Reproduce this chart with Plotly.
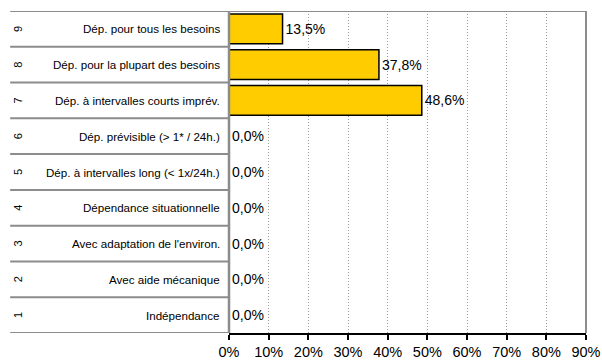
import plotly.graph_objects as go

levels = [1, 2, 3, 4, 5, 6, 7, 8, 9]
labels = [
    "Indépendance",
    "Avec aide mécanique",
    "Avec adaptation de l'environ.",
    "Dépendance situationnelle",
    "Dép. à intervalles long (< 1x/24h.)",
    "Dép. prévisible (> 1* / 24h.)",
    "Dép. à intervalles courts imprév.",
    "Dép. pour la plupart des besoins",
    "Dép. pour tous les besoins",
]
values = [0.0, 0.0, 0.0, 0.0, 0.0, 0.0, 48.6, 37.8, 13.5]
x_ticks = [0, 10, 20, 30, 40, 50, 60, 70, 80, 90]
x_tick_text = ["0%", "10%", "20%", "30%", "40%", "50%", "60%", "70%", "80%", "90%"]

FONT = "Arial, Liberation Sans, sans-serif"
GRAY = "#8c8c8c"

fig = go.Figure()
fig.add_trace(go.Bar(
    x=values, y=levels, orientation="h", width=0.83,
    marker=dict(color="#FFCC00", line=dict(color="black", width=1.5)),
    text=values, texttemplate="%{x:.1f}%", textposition="outside",
    textfont=dict(size=14, color="black", family=FONT),
    cliponaxis=False, hoverinfo="skip",
))

annotations = []
shapes = []
for lv, lab in zip(levels, labels):
    annotations.append(dict(x=0, y=lv, xref="paper", yref="y", text=lab,
                            xanchor="right", xshift=-7, showarrow=False,
                            font=dict(size=11.6, color="black", family=FONT)))
    annotations.append(dict(x=0, y=lv, xref="paper", yref="y", text=str(lv),
                            xanchor="center", xshift=-211, showarrow=False,
                            textangle=-90,
                            font=dict(size=11, color="black", family=FONT)))
for k in range(0, 9):
    shapes.append(dict(type="line", xref="paper", yref="y", x0=-0.613, x1=0,
                       y0=k + 0.5, y1=k + 0.5, line=dict(color=GRAY, width=2)))
# top border across whole chart
shapes.append(dict(type="line", xref="paper", yref="y", x0=-0.613, x1=1,
                   y0=9.5, y1=9.5, line=dict(color=GRAY, width=2)))
# right border
shapes.append(dict(type="line", xref="paper", yref="paper", x0=1, x1=1,
                   y0=0, y1=1, line=dict(color=GRAY, width=2)))
# left axis
shapes.append(dict(type="line", xref="paper", yref="paper", x0=0, x1=0,
                   y0=0, y1=1, line=dict(color=GRAY, width=2.5)))

fig.update_layout(
    width=602, height=362,
    margin=dict(l=229, r=16, t=11, b=29, autoexpand=False),
    paper_bgcolor="white", plot_bgcolor="white",
    separators=", ",
    showlegend=False,
    font=dict(family=FONT, color="black"),
    xaxis=dict(range=[0, 90], tickvals=x_ticks, ticktext=x_tick_text,
               showgrid=True, gridcolor="#999999", griddash="1px,2px", gridwidth=1,
               showline=True, linecolor="black", linewidth=2,
               ticks="outside", ticklen=5, tickwidth=2, tickcolor="black",
               tickfont=dict(size=14.5, family=FONT, color="black"),
               ticklabelstandoff=0, zeroline=False, fixedrange=True,
               automargin=False),
    yaxis=dict(range=[0.5, 9.5], showticklabels=False, showgrid=False,
               zeroline=False, ticks="", fixedrange=True, automargin=False),
    annotations=annotations,
    shapes=shapes,
)

fig.write_html("out.html", config={"displayModeBar": False},
               post_script="document.body.style.margin='0';document.body.style.overflow='hidden';")
